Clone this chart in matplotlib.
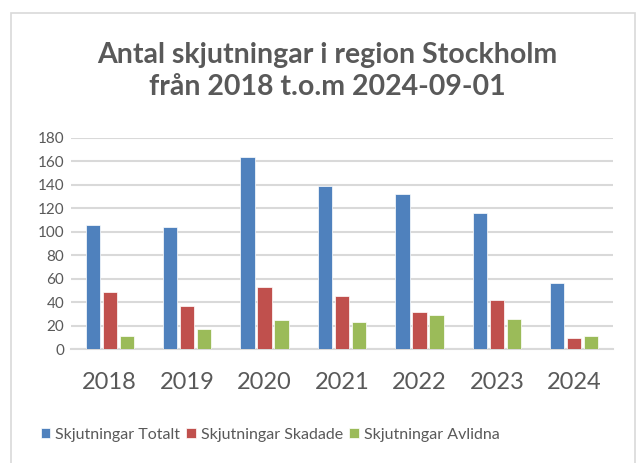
import matplotlib
matplotlib.use("Agg")
import matplotlib.pyplot as plt
from matplotlib.patches import Rectangle
import numpy as np

years = ["2018", "2019", "2020", "2021", "2022", "2023", "2024"]
totalt = [106, 104, 164, 139, 132, 116, 56]
skadade = [49, 37, 53, 45, 32, 42, 10]
avlidna = [11, 17, 25, 23, 29, 26, 11]
series_names = ["Skjutningar Totalt", "Skjutningar Skadade", "Skjutningar Avlidna"]
colors = ["#4F81BD", "#C0504D", "#9BBB59"]

plt.rcParams['font.family'] = ['Lato', 'DejaVu Sans']
txt = "#595959"

fig = plt.figure(figsize=(6.41, 4.63), dpi=100)
fig.patch.set_facecolor("white")
W, H = 641, 463
fig.add_artist(Rectangle((11 / W, -0.05), (635 - 11) / W, 1.05 - 13 / H,
                         transform=fig.transFigure, fill=False,
                         edgecolor="#D9D9D9", linewidth=1.2))

ax = fig.add_axes([71 / W, 1 - 349.3 / H, (613 - 71) / W, (349.3 - 137.7) / H])
x = np.arange(len(years))
off = 0.22
w = 0.185
for i, (vals, c, n) in enumerate(zip([totalt, skadade, avlidna], colors, series_names)):
    ax.bar(x + (i - 1) * off, vals, width=w, color=c, label=n, zorder=3,
           edgecolor="white", linewidth=0.5)

ax.set_ylim(0, 180)
ax.set_xlim(-0.5, len(years) - 0.5)
ax.set_yticks(range(0, 181, 20))
ax.yaxis.grid(True, color="#D9D9D9", linewidth=1.5, zorder=0)
ax.set_axisbelow(True)
for s in ["top", "right", "left"]:
    ax.spines[s].set_visible(False)
ax.spines["bottom"].set_color("#D9D9D9")
ax.spines["bottom"].set_linewidth(1.5)
ax.tick_params(axis="both", length=0, colors=txt)
ax.tick_params(axis="y", labelsize=11, pad=5)
ax.tick_params(axis="x", labelsize=17, pad=16)
ax.set_xticks(x)
ax.set_xticklabels(years)

fig.text(327 / W, 1 - 71 / H, "Antal skjutningar i region Stockholm\nfrån 2018 t.o.m 2024-09-01",
         ha="center", va="center", fontsize=20.5, fontweight="bold", color=txt,
         linespacing=1.3)

fig.legend(loc="center", bbox_to_anchor=(270 / W, 1 - 435 / H), ncol=3, frameon=False,
           fontsize=11.5, labelcolor=txt, handlelength=0.6, handleheight=0.6,
           handletextpad=0.3, columnspacing=0.4)

fig.savefig("out.png", dpi=100)
